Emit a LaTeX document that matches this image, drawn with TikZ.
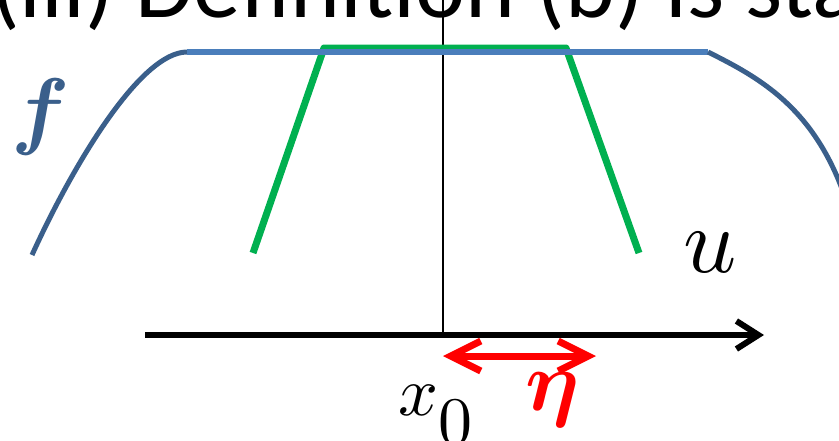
\documentclass[tikz,border=0pt]{standalone}
\usepackage{amsmath}
\usepackage{graphicx}
\usepackage{fontspec}
\setmainfont{Carlito}
\usetikzlibrary{arrows.meta}
\definecolor{fcurve}{HTML}{3A5F8B}
\definecolor{fflat}{HTML}{4A7EBB}
\definecolor{ggreen}{HTML}{00B050}
\definecolor{rred}{HTML}{FF0000}
\tikzset{
  lab/.style={anchor=base west, inner sep=0pt, outer sep=0pt},
  curveblue/.style={draw=fcurve, line width=5pt},
  flatblue/.style={draw=fflat, line width=5.5pt},
  greenline/.style={draw=ggreen, line width=7pt, line join=round},
  axisline/.style={draw=black, line width=6pt, -{Straight Barb[length=22pt,width=28pt,line width=6pt]}},
  etaarrow/.style={draw=rred, line width=7pt, {Straight Barb[length=30pt,width=30pt,line width=7pt]}-{Straight Barb[length=30pt,width=30pt,line width=7pt]}}
}
\begin{document}
\begin{tikzpicture}[x=1pt,y=-1pt]
\useasboundingbox (0,0) rectangle (839,440);
\clip (0,0) rectangle (839,440);
% title
\node[lab, font=\fontsize{95}{110}\selectfont] (title) at (-9,17) {(iii) Definition (b) is sta};
% vertical line
\coordinate (vtop) at (443,-5);
\coordinate (o) at (443,335);
\draw[line width=1.5pt] (vtop) -- (o);
% green trapezoid
\coordinate (g1) at (253,253);
\coordinate (g2) at (324,48);
\coordinate (g3) at (566,48);
\coordinate (g4) at (639,253);
\draw[greenline] (g1) -- (g2) -- (g3) -- (g4);
% blue f
\coordinate (b0) at (32,255);
\coordinate (b1) at (187,52);
\coordinate (b2) at (708,52);
\coordinate (b3) at (846,200);
\draw[curveblue] (b0) .. controls (72,167) and (140,52) .. (b1);
\draw[flatblue] (b1) -- (b2);
\draw[curveblue] (b2) .. controls (760,78) and (815,108) .. (b3);
% axis
\coordinate (a0) at (145,335);
\coordinate (a1) at (764,335);
\draw[axisline] (a0) -- (a1);
% eta arrow
\coordinate (e0) at (443,356);
\coordinate (e1) at (596,356);
\draw[etaarrow] (e0) -- (e1);
% labels
\node[lab, text=fcurve] (flab) at (12,138) {\scalebox{8.6}{$\boldsymbol{f}$}};
\node[lab] (ulab) at (683,272) {\scalebox{9.3}{$u$}};
\node[lab] (xlab) at (398,415) {\scalebox{7}{$x$}\raisebox{-29pt}{\scalebox{6.8}{$0$}}};
\node[lab, text=rred] (etalab) at (525,410) {\scalebox{8.5}{$\boldsymbol{\eta}$}};
\end{tikzpicture}
\end{document}
